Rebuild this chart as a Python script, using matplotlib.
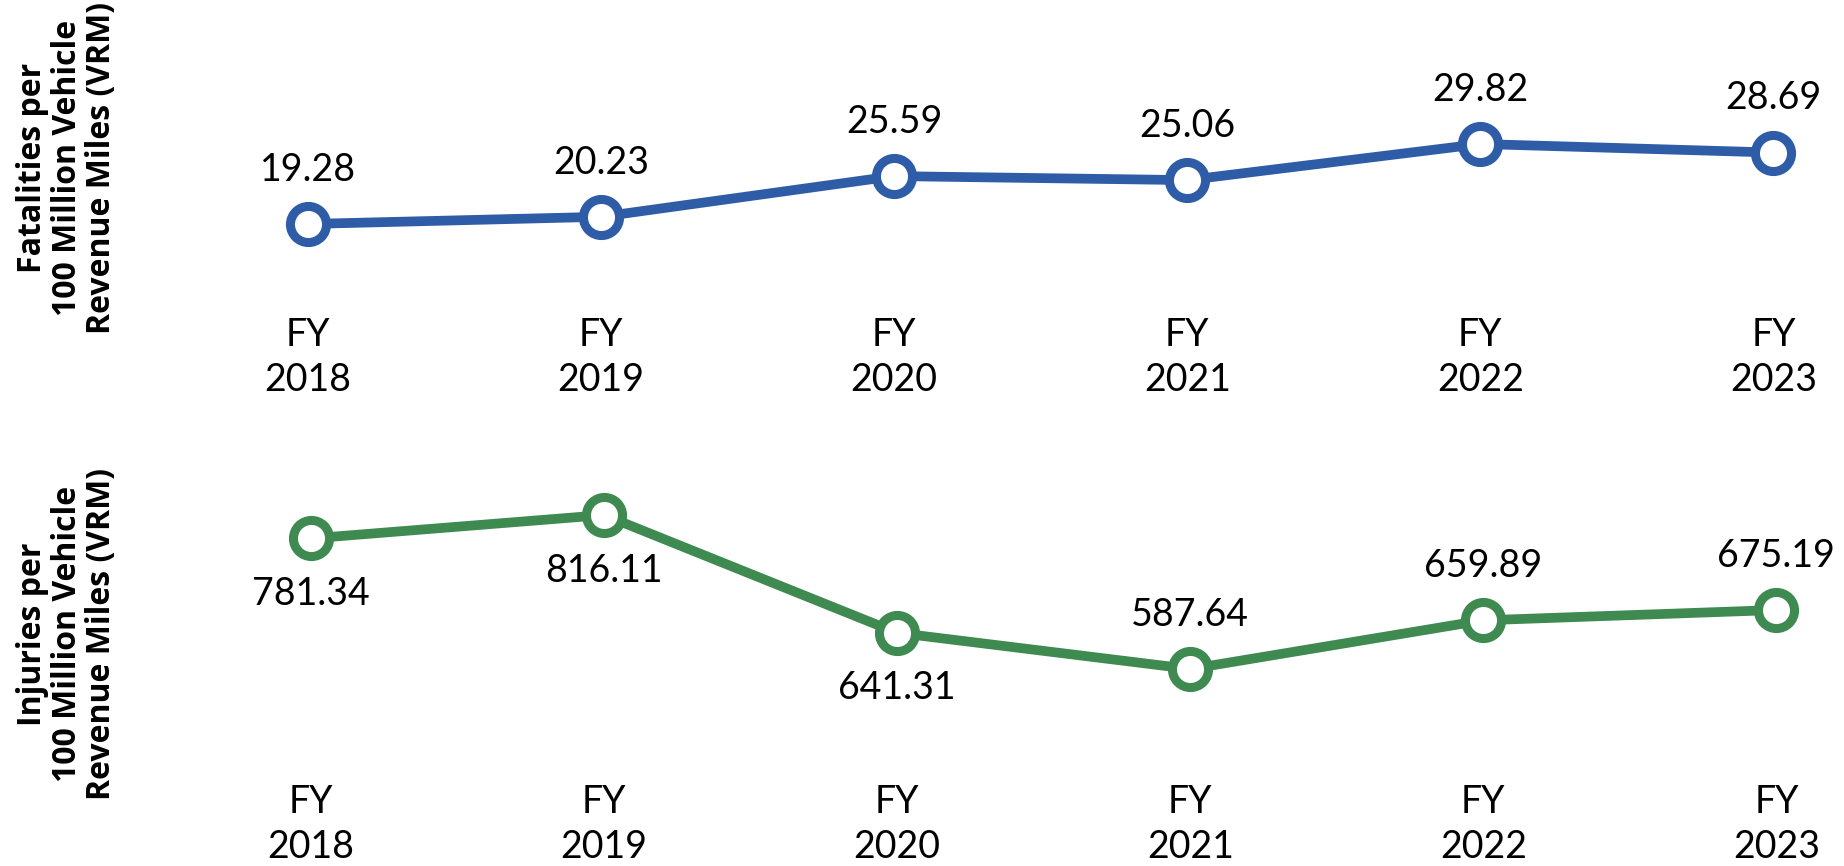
import matplotlib
matplotlib.use("Agg")
import matplotlib.pyplot as plt

years = ["2018", "2019", "2020", "2021", "2022", "2023"]
fatalities = [19.28, 20.23, 25.59, 25.06, 29.82, 28.69]
injuries = [781.34, 816.11, 641.31, 587.64, 659.89, 675.19]
inj_label_pos = ["below", "below", "below", "above", "above", "above"]

W, H = 1844, 866
fig = plt.figure(figsize=(W / 100, H / 100), dpi=100)
plt.rcParams['font.family'] = ['Lato', 'DejaVu Sans']

BLUE = "#2E5CA6"
GREEN = "#3E8A50"

def make_axes(left_px, right_px, top_px, bottom_px):
    return fig.add_axes([left_px / W, 1 - bottom_px / H,
                         (right_px - left_px) / W, (bottom_px - top_px) / H])

x = list(range(len(years)))
ticklabels = ["FY\n" + y for y in years]

def style(ax, xlim, ylim):
    ax.set_xlim(*xlim)
    ax.set_ylim(*ylim)
    for s in ax.spines.values():
        s.set_visible(False)
    ax.set_yticks([])
    ax.set_xticks(x)
    ax.set_xticklabels(ticklabels, fontsize=27, color="black", linespacing=1.32)
    ax.tick_params(axis="x", length=0, pad=12)
    ax.patch.set_alpha(0)

# Top chart
ax1 = make_axes(220, 1832, 90, 300)
style(ax1, (-0.3, 5.2), (9.27, 36.93))
ax1.plot(x, fatalities, color=BLUE, lw=7, marker="o", ms=26, mfc="white",
         mec=BLUE, mew=6.5, solid_capstyle="round", zorder=3)
for xi, v in zip(x, fatalities):
    ax1.annotate(f"{v:.2f}", (xi, v), xytext=(0, 39), textcoords="offset points",
                 ha="center", va="center", fontsize=27, color="black")

# Bottom chart
ax2 = make_axes(223, 1835, 480, 767)
style(ax2, (-0.3, 5.2), (442.24, 868.04))
ax2.plot(x, injuries, color=GREEN, lw=7, marker="o", ms=26, mfc="white",
         mec=GREEN, mew=6.5, solid_capstyle="round", zorder=3)
for xi, v, p in zip(x, injuries, inj_label_pos):
    off = -40 if p == "below" else 39
    ax2.annotate(f"{v:.2f}", (xi, v), xytext=(0, off), textcoords="offset points",
                 ha="center", va="center", fontsize=27, color="black")

ylab_font = ['Open Sans', 'DejaVu Sans']
fig.text(67 / W, 1 - 168 / H, "Fatalities per\n100 Million Vehicle\nRevenue Miles (VRM)",
         rotation=90, ha="center", va="center", multialignment="center",
         fontsize=23, fontweight="bold", linespacing=1.05, family=ylab_font)
fig.text(67 / W, 1 - 634 / H, "Injuries per\n100 Million Vehicle\nRevenue Miles (VRM)",
         rotation=90, ha="center", va="center", multialignment="center",
         fontsize=23, fontweight="bold", linespacing=1.05, family=ylab_font)

fig.savefig("out.png", dpi=100, facecolor="white")
